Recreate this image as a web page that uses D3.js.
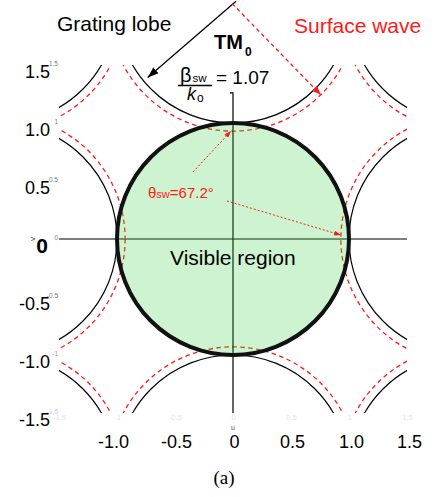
<!DOCTYPE html>
<html>
<head>
<meta charset="utf-8">
<script src="https://cdn.jsdelivr.net/npm/d3@7"></script>
<style>
  html, body { margin: 0; padding: 0; background: #fff; }
  svg { display: block; font-family: "Liberation Sans", Arial, sans-serif; }
</style>
</head>
<body>
<svg id="chart" width="434" height="497"></svg>
<script>
// Normalised wavenumber plane (u, v): visible region, grating lobes and surface-wave circles
const axisTicks = [-1.5, -1.0, -0.5, 0, 0.5, 1.0, 1.5];
const xTickLabels = ["-1.0", "-0.5", "0", "0.5", "1.0", "1.5"];
const xTickValues = [-1.0, -0.5, 0, 0.5, 1.0, 1.5];
const latticeU = [-2, 0, 2];
const latticeV = [-2, 0, 2];
const visibleRadius = 1.0;
const betaSW = 1.07;            // beta_sw / k_o for the TM0 surface wave
const thetaSW = 67.2;           // degrees
const vAxisTop = 1.26;

const svg = d3.select("#chart");
const x = d3.scaleLinear().domain([-1.5, 1.5]).range([59, 407]);
const y = d3.scaleLinear().domain([-1.5, 1.5]).range([413, 65]);
const r = d => x(d) - x(0);

svg.append("rect").attr("width", 434).attr("height", 497).attr("fill", "#fff");

const defs = svg.append("defs");
defs.append("clipPath").attr("id", "plotClip")
  .append("rect")
  .attr("x", x(-1.5)).attr("y", y(1.5))
  .attr("width", x(1.5) - x(-1.5)).attr("height", y(-1.5) - y(1.5));

function marker(id, color, len, wid) {
  defs.append("marker").attr("id", id)
    .attr("viewBox", `0 0 ${len} ${wid}`)
    .attr("refX", len).attr("refY", wid / 2)
    .attr("markerWidth", len).attr("markerHeight", wid)
    .attr("markerUnits", "userSpaceOnUse")
    .attr("orient", "auto")
    .append("path")
    .attr("d", `M0,0L${len},${wid / 2}L0,${wid}Z`)
    .attr("fill", color);
}
marker("arrowBlack", "#000", 11, 8);
marker("arrowRed", "#ff1a1a", 9, 7);
marker("arrowRedSmall", "#ff1a1a", 7, 5);

// grating-lobe centres (all lattice points except the origin)
const centres = [];
latticeU.forEach(u => latticeV.forEach(v => { if (u !== 0 || v !== 0) centres.push({ u, v }); }));

const plot = svg.append("g").attr("clip-path", "url(#plotClip)");

// axes through the origin
plot.append("line")
  .attr("x1", x(-1.5)).attr("x2", x(1.5))
  .attr("y1", y(0)).attr("y2", y(0))
  .attr("stroke", "#000").attr("stroke-width", 1.2);
svg.append("path")
  .attr("d", `M${x(0) - 3},${y(vAxisTop)}H${x(0)}V${y(-1.5)}`)
  .attr("fill", "none").attr("stroke", "#000").attr("stroke-width", 1.2);

// grating lobes
plot.selectAll("circle.lobe").data(centres).join("circle")
  .attr("class", "lobe")
  .attr("cx", d => x(d.u)).attr("cy", d => y(d.v))
  .attr("r", r(visibleRadius))
  .attr("fill", "none").attr("stroke", "#000").attr("stroke-width", 1.2);

// surface-wave circles
plot.selectAll("circle.sw").data(centres).join("circle")
  .attr("class", "sw")
  .attr("cx", d => x(d.u)).attr("cy", d => y(d.v))
  .attr("r", r(betaSW))
  .attr("fill", "none").attr("stroke", "#ff1a1a").attr("stroke-width", 1.3)
  .attr("stroke-dasharray", "4.5,3.5");

// visible region: translucent fill laid over the lines, then the rim
svg.append("circle")
  .attr("cx", x(0)).attr("cy", y(0)).attr("r", r(visibleRadius))
  .attr("fill", "rgb(55,207,67)").attr("fill-opacity", 0.25);
svg.append("circle")
  .attr("cx", x(0)).attr("cy", y(0)).attr("r", r(visibleRadius))
  .attr("fill", "none").attr("stroke", "#111").attr("stroke-width", 4);

// faint secondary tick labels
const ghostY = svg.append("g").attr("transform", `translate(58,-2)`)
  .call(d3.axisLeft(y).tickValues(axisTicks).tickSize(0).tickPadding(0).tickFormat(d => String(d)));
ghostY.select(".domain").remove();
ghostY.selectAll("text")
  .attr("font-family", "Liberation Sans, Arial, sans-serif")
  .attr("font-size", 6.5)
  .attr("fill", d => d === -1.5 ? "#d0d0d0" : (d <= -1 ? "#9a9a9a" : "#7a7a7a"));

const ghostX = svg.append("g").attr("transform", `translate(0,${y(-1.5) + 2})`)
  .call(d3.axisBottom(x).tickValues(axisTicks).tickSize(0).tickPadding(0).tickFormat(d => String(d)));
ghostX.select(".domain").remove();
ghostX.selectAll("text")
  .attr("font-family", "Liberation Sans, Arial, sans-serif")
  .attr("font-size", 7.5).attr("fill", "#e4e4e4");

// main tick labels
const yAxis = svg.append("g").attr("transform", `translate(50,7)`)
  .call(d3.axisLeft(y).tickValues(axisTicks).tickSize(0).tickPadding(0)
    .tickFormat(d => d === 0 ? "0" : d.toFixed(1)));
yAxis.select(".domain").remove();
yAxis.selectAll("text")
  .attr("font-family", "Liberation Sans, Arial, sans-serif")
  .attr("font-size", d => d === 0 ? 21 : 18)
  .attr("font-weight", d => d === 0 ? "bold" : "normal")
  .attr("x", d => d === 0 ? -2 : 0)
  .attr("fill", "#000");

const xAxis = svg.append("g").attr("transform", `translate(0,435)`)
  .call(d3.axisBottom(x).tickValues(xTickValues).tickSize(0).tickPadding(0)
    .tickFormat((d, i) => xTickLabels[i]));
xAxis.select(".domain").remove();
xAxis.selectAll("text")
  .attr("font-family", "Liberation Sans, Arial, sans-serif")
  .attr("font-size", 18).attr("fill", "#000")
  .attr("x", d => d === -1 ? -4 : (d >= 1 ? 2 : 1));

// axis letters
svg.append("text").attr("transform", `translate(35,${y(0)}) rotate(-90)`)
  .attr("text-anchor", "middle").attr("font-size", 8).attr("fill", "#555").text("v");
svg.append("text").attr("x", x(0)).attr("y", 430)
  .attr("text-anchor", "middle").attr("font-size", 7).attr("fill", "#555").text("u");

// annotations
svg.append("text").attr("x", 57).attr("y", 31).attr("font-size", 21).attr("fill", "#000").text("Grating lobe");
svg.append("text").attr("x", 294).attr("y", 33).attr("font-size", 21).attr("fill", "#ff1a1a").text("Surface wave");

const tm = svg.append("text").attr("x", 214).attr("y", 49).attr("font-weight", "bold").attr("fill", "#000");
tm.append("tspan").attr("font-size", 20).text("TM");
tm.append("tspan").attr("font-size", 12).attr("dy", 7).attr("dx", 2).text("0");

const num = svg.append("text").attr("x", 180).attr("y", 82).attr("fill", "#000");
num.append("tspan").attr("font-size", 20).text("β");
num.append("tspan").attr("font-size", 11.5).attr("dx", 1).text("sw");
svg.append("line").attr("x1", 178).attr("x2", 212).attr("y1", 85.5).attr("y2", 85.5)
  .attr("stroke", "#000").attr("stroke-width", 1.3);
const den = svg.append("text").attr("x", 187).attr("y", 100).attr("fill", "#000");
den.append("tspan").attr("font-size", 18).attr("font-style", "italic").text("k");
den.append("tspan").attr("font-size", 12).attr("dy", 2).attr("dx", 1).text("o");
svg.append("text").attr("x", 216).attr("y", 84).attr("font-size", 19).attr("fill", "#000")
  .text("= " + betaSW.toFixed(2));

const th = svg.append("text").attr("x", 148).attr("y", 198).attr("fill", "#ff1a1a");
th.append("tspan").attr("font-size", 15).text("θ");
th.append("tspan").attr("font-size", 11).text("sw");
th.append("tspan").attr("font-size", 15).text("=" + thetaSW.toFixed(1) + "°");

svg.append("text").attr("x", 170).attr("y", 265).attr("font-size", 21).attr("fill", "#000").text("Visible region");

svg.append("text").attr("x", 224).attr("y", 484).attr("text-anchor", "middle")
  .attr("font-family", "Liberation Serif, Times New Roman, serif")
  .attr("font-size", 19).attr("fill", "#000").text("(a)");

// arrows (in u, v coordinates)
const s45 = Math.SQRT1_2;
const arrows = [
  { from: [0.026, 2.05], to: [-s45 * visibleRadius * 1.04, 2 - s45 * visibleRadius * 0.86], color: "#000", width: 1.3, dash: null, mk: "arrowBlack" },
  { from: [-0.008, 2.03], to: [s45 * betaSW, 2 - s45 * betaSW], color: "#ff1a1a", width: 1.3, dash: "4,3", mk: "arrowRed" },
  { from: [-0.345, 0.578], to: [-0.017, 2 - betaSW], color: "#ff1a1a", width: 1, dash: "2,2", mk: "arrowRedSmall" },
  { from: [-0.052, 0.328], to: [2 - betaSW, 0.034], color: "#ff1a1a", width: 1, dash: "2,2", mk: "arrowRedSmall" }
];
svg.selectAll("line.arrow").data(arrows).join("line")
  .attr("class", "arrow")
  .attr("x1", d => x(d.from[0])).attr("y1", d => y(d.from[1]))
  .attr("x2", d => x(d.to[0])).attr("y2", d => y(d.to[1]))
  .attr("stroke", d => d.color).attr("stroke-width", d => d.width)
  .attr("stroke-dasharray", d => d.dash)
  .attr("marker-end", d => `url(#${d.mk})`);
</script>
</body>
</html>
